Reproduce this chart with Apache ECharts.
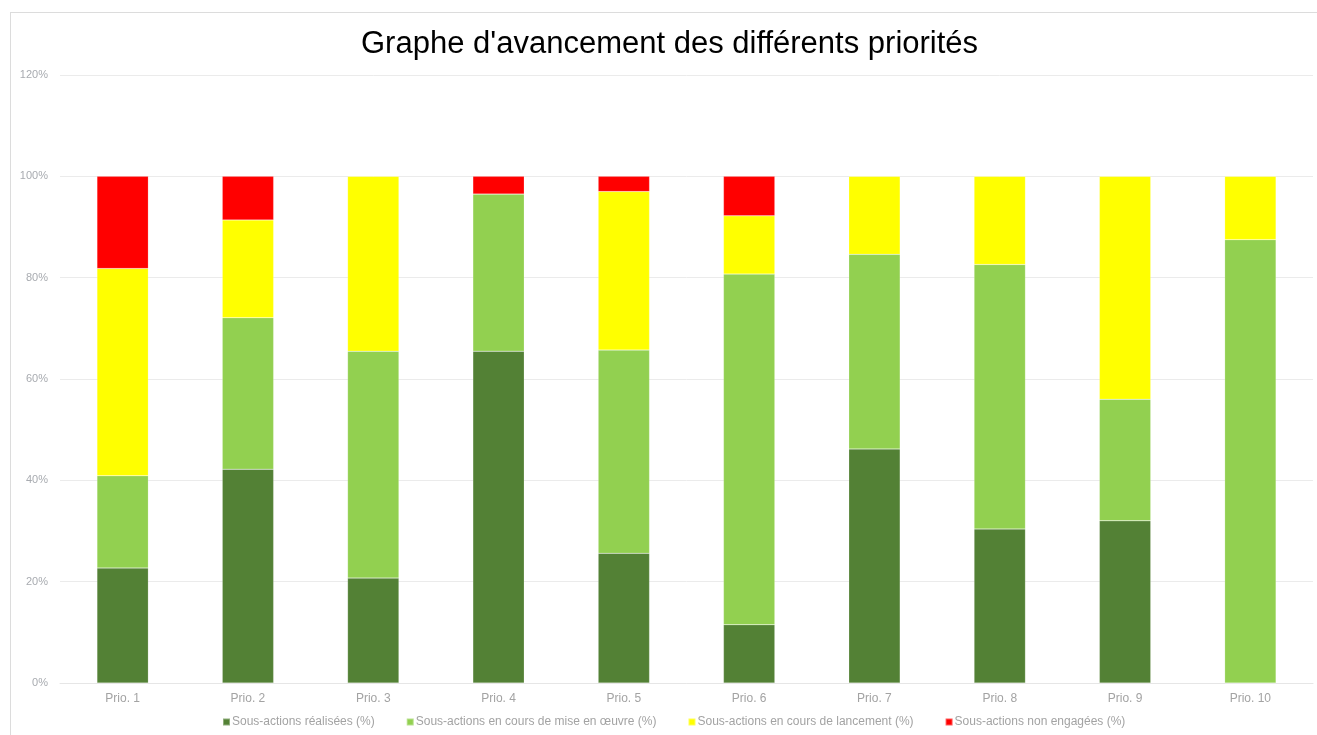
<!DOCTYPE html>
<html>
<head>
<meta charset="utf-8">
<script src="https://cdn.jsdelivr.net/npm/echarts@6/dist/echarts.min.js"></script>
<style>
  html, body { margin: 0; padding: 0; background: #fff; }
  #frame { position: absolute; left: 10px; top: 12px; width: 1320px; height: 740px;
           border-left: 1px solid #dcdcdc; border-top: 1px solid #dcdcdc; }
  #chart { position: absolute; left: 0; top: 0; width: 1317px; height: 735px; }
</style>
</head>
<body>
<div id="frame"></div>
<div id="chart"></div>
<script>
// catégories et valeurs (%)
const categories = ['Prio. 1', 'Prio. 2', 'Prio. 3', 'Prio. 4', 'Prio. 5', 'Prio. 6', 'Prio. 7', 'Prio. 8', 'Prio. 9', 'Prio. 10'];
const realisees   = [22.7, 42.2, 20.7, 65.5, 25.6, 11.5, 46.2, 30.4, 32.0, 0];
const miseEnOeuvre = [18.2, 29.9, 44.8, 31.0, 40.1, 69.2, 38.4, 52.2, 24.0, 87.5];
const lancement   = [40.9, 19.3, 34.5, 0, 31.3, 11.5, 15.4, 17.4, 44.0, 12.5];
const nonEngagees = [18.2, 8.6, 0, 3.5, 3.0, 7.8, 0, 0, 0, 0];

const seriesDefs = [
  ['Sous-actions réalisées (%)', realisees, '#538135'],
  ['Sous-actions en cours de mise en œuvre (%)', miseEnOeuvre, '#92d050'],
  ['Sous-actions en cours de lancement (%)', lancement, '#ffff00'],
  ['Sous-actions non engagées (%)', nonEngagees, '#ff0000']
];

const chart = echarts.init(document.getElementById('chart'));
chart.setOption({
  animation: false,
  textStyle: { fontFamily: 'Liberation Sans, Arial, sans-serif' },
  title: {
    text: "Graphe d'avancement des différents priorités",
    left: 356,
    top: 24,
    textStyle: { fontSize: 31, fontWeight: 'normal', color: '#000', fontFamily: 'Liberation Sans, Arial, sans-serif' }
  },
  legend: {
    bottom: 2,
    left: 217,
    itemWidth: 7,
    itemHeight: 7,
    itemGap: 31,
    icon: 'rect',
    textStyle: { color: '#a3a3a3', fontSize: 12, padding: [0, 0, 0, -3] },
    data: seriesDefs.map(s => s[0])
  },
  grid: { left: 60, right: 4, top: 75, bottom: 52, containLabel: false },
  xAxis: {
    type: 'category',
    data: categories,
    axisLine: { lineStyle: { color: '#e6e6e6' } },
    axisTick: { show: false },
    axisLabel: { color: '#a3a3a3', fontSize: 12, margin: 10 }
  },
  yAxis: {
    type: 'value',
    min: 0,
    max: 120,
    interval: 20,
    axisLine: { show: false },
    axisTick: { show: false },
    axisLabel: { color: '#a8abb0', fontSize: 11, margin: 12, formatter: '{value}%' },
    splitLine: { lineStyle: { color: '#ebebeb' } }
  },
  series: seriesDefs.map(s => ({
    name: s[0],
    type: 'bar',
    stack: 'total',
    barWidth: '41%',
    data: s[1],
    itemStyle: { color: s[2], borderColor: 'rgba(255,255,255,0.35)', borderWidth: 0.5 }
  }))
});
</script>
</body>
</html>
